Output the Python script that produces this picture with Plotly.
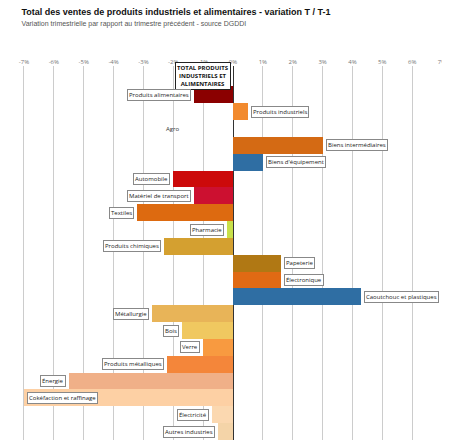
import plotly.graph_objects as go

labels = ["TOTAL PRODUITS<br>INDUSTRIELS ET<br>ALIMENTAIRES", "Produits alimentaires", "Produits industriels", "Agro",
          "Biens intermédiaires", "Biens d'équipement", "Automobile", "Matériel de transport",
          "Textiles", "Pharmacie", "Produits chimiques", "Papeterie", "Électronique",
          "Caoutchouc et plastiques", "Métallurgie", "Bois", "Verre", "Produits métalliques",
          "Énergie", "Cokéfaction et raffinage", "Électricité", "Autres industries"]
values = [0, -1.3, 0.5, 0, 3.0, 1.0, -2.0, -1.3, -3.2, -0.2, -2.3, 1.6, 1.6, 4.3,
          -2.7, -1.7, -1.0, -2.2, -5.5, -7.0, -0.7, -0.5]
colors = ["#ffffff", "#8b0000", "#f28a2e", "#ffffff", "#d46a14", "#2f6ea3", "#cc0a0a", "#cc1030",
          "#dd6a10", "#c8e04a", "#d4a030", "#b07814", "#e06a14", "#2f6ea3",
          "#e8b458", "#f0c860", "#f89a40", "#f4863a", "#f0b088", "#fdd0a4", "#fbd8b0", "#f4d4a8"]
xticks = list(range(-7, 8))

fig = go.Figure(go.Bar(y=labels, x=values, orientation="h", marker=dict(color=colors, line=dict(width=0)),
                       width=1.0, showlegend=False))
for l, v in zip(labels, values):
    if l == "Agro":
        fig.add_annotation(x=-2.0, y=l, text=l, showarrow=False, font=dict(size=6, color="#333"))
        continue
    if l.startswith("TOTAL"):
        fig.add_annotation(x=-1.0, y=l, text="<b>" + l + "</b>", showarrow=False, font=dict(size=6, color="#111"),
                           bordercolor="#222", borderwidth=1, bgcolor="white", yshift=2)
        continue
    inside = v <= -6.5
    fig.add_annotation(x=v, y=l, text=l, showarrow=False,
                       xanchor="left" if (v >= 0 or inside) else "right",
                       xshift=3 if (v >= 0 or inside) else -3, font=dict(size=6, color="#222"),
                       bordercolor="#888", borderwidth=1, bgcolor="white", borderpad=1)

fig.update_layout(
    width=450, height=442, margin=dict(l=10, r=10, t=58, b=10), plot_bgcolor="white", paper_bgcolor="white",
    title=dict(text="<b>Total des ventes de produits industriels et alimentaires - variation T / T-1</b><br>"
                    "<span style='font-size:7px;color:#555'>Variation trimestrielle par rapport au trimestre précédent - source DGDDI</span>",
               x=0.03, y=0.985, yanchor="top", font=dict(size=9, family="Arial", color="#111")),
    xaxis=dict(side="top", range=[-7.2, 7.2], tickvals=xticks, ticktext=[f"{t}%" for t in xticks],
               tickfont=dict(size=6, color="#777"), showgrid=True, gridcolor="#cccccc", zeroline=True,
               zerolinecolor="#333", zerolinewidth=1),
    yaxis=dict(autorange="reversed", showticklabels=False, showgrid=False),
    bargap=0,
)
fig.write_html("out.html")
